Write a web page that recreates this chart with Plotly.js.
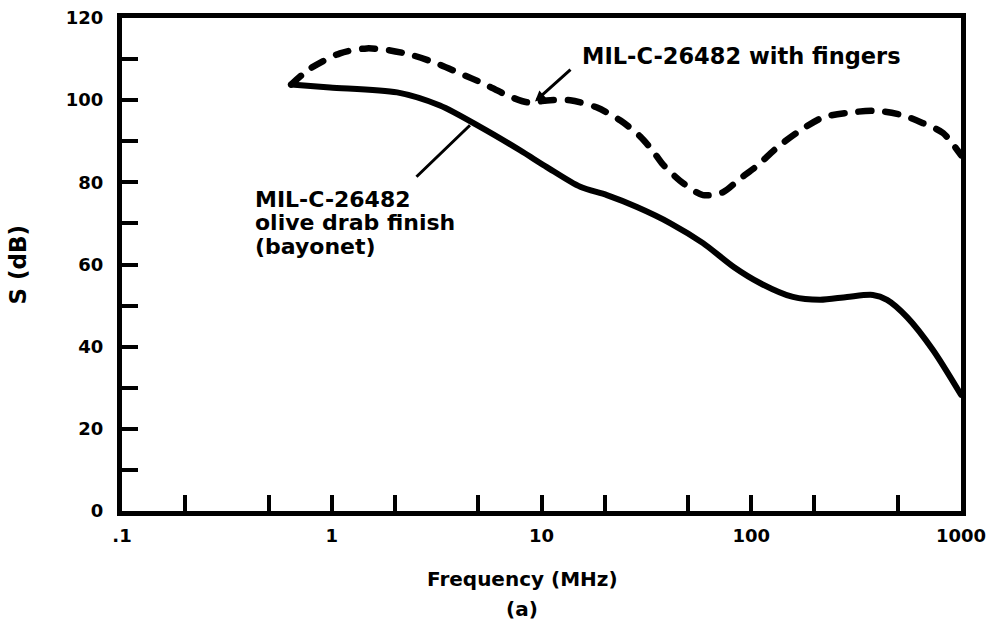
<!DOCTYPE html>
<html>
<head>
<meta charset="utf-8">
<script src="https://cdn.plot.ly/plotly-3.0.1.min.js"></script>
<style>
  html, body { margin: 0; padding: 0; background: #fff; }
  #chart { width: 999px; height: 628px; }
  #chart .scatterlayer .js-line { stroke-linecap: round; stroke-linejoin: round; }
</style>
</head>
<body>
<div id="chart"></div>
<script>
// Frequency (MHz) and shielding effectiveness S (dB)
const freqBayonet = [0.64, 0.98, 2.05, 3.28, 5.1, 7.9, 10.6, 15.3, 20.5, 28.5, 41, 58.9, 82.5, 110, 158, 213, 286, 380, 444, 553, 735, 1000];
const sBayonet    = [103.8, 103.1, 101.9, 98.7, 93.5, 87.8, 83.7, 78.9, 76.9, 74.0, 70.1, 65.2, 59.4, 55.5, 52.1, 51.4, 52.1, 52.6, 51.4, 47.2, 39.2, 28.3];

const freqFingers = [0.64, 0.79, 1.095, 1.47, 1.9, 2.44, 3.18, 4.09, 5.26, 6.85, 8.53, 11, 13.7, 18.4, 23.7, 29.5, 34, 38, 47.3, 58.9, 73.3, 88.4, 106.5, 133, 171, 220, 296, 398, 529, 659, 821, 1000];
const sFingers    = [103.8, 107.7, 111.4, 112.6, 112.1, 110.9, 108.9, 106.5, 104.1, 101.2, 99.5, 100.0, 100.0, 98.2, 95.1, 91.2, 87.6, 84.3, 79.8, 76.9, 77.6, 80.9, 84.0, 88.5, 92.6, 95.8, 97.0, 97.4, 96.3, 94.4, 92.0, 86.6];

const xTickVals = [0.1, 0.2, 0.5, 1, 2, 5, 10, 20, 50, 100, 200, 500, 1000];
const xTickText = [".1", "", "", "1", "", "", "10", "", "", "100", "", "", "1000"];
const yTickVals = [0, 10, 20, 30, 40, 50, 60, 70, 80, 90, 100, 110, 120];
const yTickText = ["0", "", "20", "", "40", "", "60", "", "80", "", "100", "", "120"];

const labelFingers = "MIL-C-26482 with fingers";
const labelBayonetLines = ["MIL-C-26482", "olive drab finish", "(bayonet)"];
const xTitle = "Frequency (MHz)";
const subTitle = "(a)";
const yTitle = "S (dB)";

const FONT = "DejaVu Sans, Arial, sans-serif";
const bold = (size) => ({ family: FONT, size: size, color: "#000", weight: "bold" });

const traces = [
  {
    x: freqBayonet, y: sBayonet, type: "scatter", mode: "lines",
    name: "olive drab finish (bayonet)",
    line: { color: "#000", width: 6, shape: "spline", smoothing: 0.8 }
  },
  {
    x: freqFingers, y: sFingers, type: "scatter", mode: "lines",
    name: "with fingers",
    line: { color: "#000", width: 6.5, dash: "13px,14px", shape: "spline", smoothing: 0.8 }
  }
];

const bayonetY = [0.6326, 0.5860, 0.5375];
const annotations = [
  { xref: "paper", yref: "paper", x: 0.546, y: 0.922, xanchor: "left", yanchor: "middle",
    text: labelFingers, showarrow: false, font: bold(22.5) },
  { xref: "x", yref: "y", x: Math.log10(9.31), y: 99.7, text: "", showarrow: true,
    axref: "pixel", ayref: "pixel", ax: 37, ay: -33,
    arrowhead: 2, arrowsize: 0.7, arrowwidth: 3, arrowcolor: "#000", standoff: 0 },
  { xref: "x", yref: "y", x: Math.log10(4.56), y: 93.9, text: "", showarrow: true,
    axref: "pixel", ayref: "pixel", ax: -55, ay: 53,
    arrowhead: 0, arrowwidth: 3, arrowcolor: "#000", standoff: 0 },
  { xref: "paper", yref: "paper", x: 0.4768, y: -0.1387, xanchor: "center", yanchor: "middle",
    text: xTitle, showarrow: false, font: bold(20) },
  { xref: "paper", yref: "paper", x: 0.4768, y: -0.1994, xanchor: "center", yanchor: "middle",
    text: subTitle, showarrow: false, font: bold(20) },
  { xref: "paper", yref: "paper", x: -0.124, y: 0.5, xanchor: "center", yanchor: "middle",
    text: yTitle, textangle: -90, showarrow: false, font: bold(23) }
];
labelBayonetLines.forEach((t, i) => annotations.push({
  xref: "paper", yref: "paper", x: 0.156, y: bayonetY[i], xanchor: "left", yanchor: "middle",
  text: t, showarrow: false, font: bold(22)
}));

const layout = {
  width: 999, height: 628,
  margin: { l: 122, r: 38, t: 17.5, b: 116.5 },
  paper_bgcolor: "#fff", plot_bgcolor: "#fff",
  showlegend: false,
  font: bold(18),
  xaxis: {
    type: "log", range: [-1, 3],
    tickmode: "array", tickvals: xTickVals, ticktext: xTickText,
    ticks: "inside", ticklen: 16, tickwidth: 4, tickcolor: "#000",
    showline: true, linewidth: 5, linecolor: "#000", mirror: true,
    showgrid: false, zeroline: false,
    tickfont: bold(18), ticklabelstandoff: 4
  },
  yaxis: {
    range: [0, 120],
    tickmode: "array", tickvals: yTickVals, ticktext: yTickText,
    ticks: "inside", ticklen: 16, tickwidth: 4, tickcolor: "#000",
    showline: true, linewidth: 5, linecolor: "#000", mirror: true,
    showgrid: false, zeroline: false,
    tickfont: bold(18), ticklabelstandoff: 10
  },
  annotations: annotations
};

Plotly.newPlot("chart", traces, layout, { staticPlot: true, displayModeBar: false });
</script>
</body>
</html>
